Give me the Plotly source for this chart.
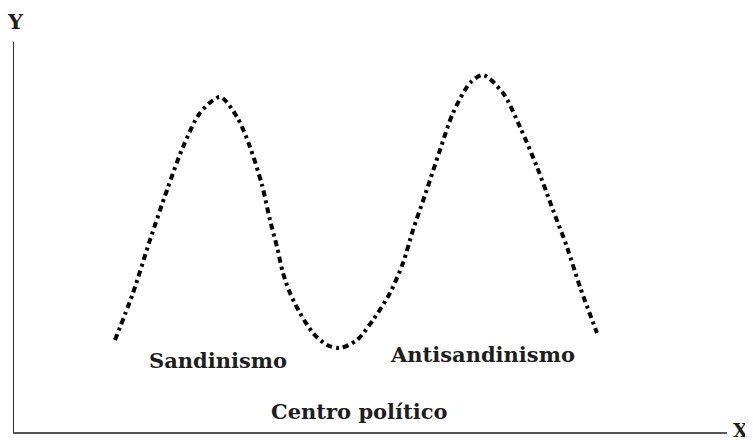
import plotly.graph_objects as go

# curve (x to the right, y up from the X axis)
curve_x = [101, 119, 136, 153, 169, 186, 206, 223, 236, 248, 256, 263, 269, 276, 286, 299,
           313, 326, 343, 359, 376, 389, 399, 411, 426, 439, 456, 469, 489, 506, 523, 539, 553, 566, 583]
curve_y = [92, 139, 192, 242, 285, 319, 335, 315, 285, 247, 212, 185, 159, 139, 119, 99,
           87, 84, 92, 112, 139, 169, 202, 237, 282, 319, 349, 357, 339, 305, 265, 222, 185, 145, 99]

labels = ["Sandinismo", "Antisandinismo", "Centro político"]
label_x = [204, 468, 345]
label_y = [72, 78, 21]

serif = "DejaVu Serif"
ink = "#1e1e1e"

fig = go.Figure()
fig.add_trace(
    go.Scatter(
        x=curve_x,
        y=curve_y,
        mode="lines",
        line=dict(color="black", width=4, dash="6px,4px,3px,4px", shape="spline", smoothing=0.8),
        hoverinfo="skip",
        showlegend=False,
    )
)

for txt, lx, ly in zip(labels, label_x, label_y):
    fig.add_annotation(
        x=lx, y=ly, text=f"<b>{txt}</b>", showarrow=False,
        font=dict(family=serif, size=21, color=ink),
    )

fig.add_annotation(x=0, y=1, xref="paper", yref="paper", text="<b>Y</b>", showarrow=False,
                   xanchor="center", yanchor="bottom", yshift=6, xshift=1,
                   font=dict(family=serif, size=21, color=ink))
fig.add_annotation(x=1, y=0, xref="paper", yref="paper", text="<b>X</b>", showarrow=False,
                   xanchor="left", yanchor="middle", xshift=4, yshift=2,
                   font=dict(family=serif, size=19, color=ink))

fig.update_xaxes(range=[0, 713], showline=True, linecolor="#555", linewidth=1.5,
                 showgrid=False, zeroline=False, showticklabels=False, ticks="")
fig.update_yaxes(range=[0, 390], showline=True, linecolor="#333", linewidth=1.2,
                 showgrid=False, zeroline=False, showticklabels=False, ticks="")
# the page adds an 8px body margin, so the figure is sized to fit the window
fig.update_layout(
    width=745,
    height=432,
    margin=dict(l=6, r=26, t=34, b=8),
    plot_bgcolor="white",
    paper_bgcolor="white",
)

fig.write_html("out.html")
